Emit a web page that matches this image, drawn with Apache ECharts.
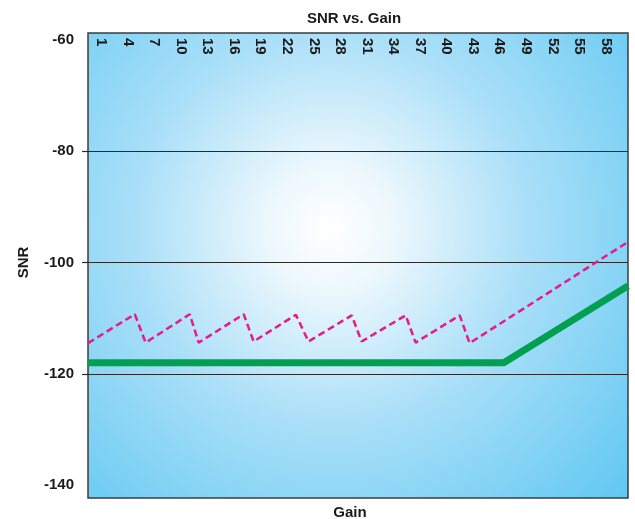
<!DOCTYPE html>
<html>
<head>
<meta charset="utf-8">
<script src="https://cdn.jsdelivr.net/npm/echarts@6/dist/echarts.min.js"></script>
<style>
    html, body { margin: 0; padding: 0; background: #fff; }
    #chart { width: 635px; height: 519px; }
</style>
</head>
<body>
<div id="chart"></div>
<script>
// gain labels printed along the top of the plot
let gainLabels = [1, 4, 7, 10, 13, 16, 19, 22, 25, 28, 31, 34, 37, 40, 43, 46, 49, 52, 55, 58];
let snrTicks = [-140, -120, -100, -80, -60];
let snrGridLines = [-120, -100, -80];

// dashed pink curve (gain, SNR)
let dashedGain = [0, 5.2, 6.4, 11.3, 12.3, 17.3, 18.4, 23.1, 24.5, 29.3, 30.4, 35.3, 36.4, 41.3, 42.4, 60];
let dashedSnr = [-114.5, -109.3, -114.4, -109.3, -114.4, -109.3, -114.2, -109.4, -114.2, -109.5, -114.2, -109.5, -114.4, -109.5, -114.5, -96.3];

// thick green curve (gain, SNR)
let solidGain = [0, 46.2, 60];
let solidSnr = [-118, -118, -104.2];

let chartDom = document.getElementById('chart');
let myChart = echarts.init(chartDom);

// categories 0..60 only used to place the rotated labels
let gainCats = [];
for (let i = 0; i <= 60; i++) {
    gainCats.push(String(i));
}

let pair = (xs, ys) => {
    let out = [];
    for (let i = 0; i < xs.length; i++) {
        out.push([xs[i], ys[i]]);
    }
    return out;
};

let boldText = {
    fontFamily: 'Liberation Sans',
    fontWeight: 'bold',
    color: '#1a1a1a'
};

let option = {
    animation: false,
    title: {
        text: 'SNR vs. Gain',
        left: 349,
        top: 6,
        textAlign: 'center',
        textStyle: Object.assign({fontSize: 15}, boldText)
    },
    grid: {
        left: 88,
        right: 7,
        top: 40,
        bottom: 34,
        outerBoundsMode: 'none'
    },
    graphic: [{
        type: 'rect',
        z: -10,
        shape: {x: 88, y: 33, width: 540, height: 465},
        style: {
            fill: {
                type: 'radial',
                x: 0.45,
                y: 0.42,
                r: 0.85,
                colorStops: [
                    {offset: 0, color: '#ffffff'},
                    {offset: 0.15, color: '#eef8fd'},
                    {offset: 0.5, color: '#a9dff8'},
                    {offset: 1, color: '#62c8f2'}
                ]
            },
            stroke: '#3c3c3c',
            lineWidth: 1.5
        }
    }],
    xAxis: [{
        type: 'value',
        min: 0,
        max: 60,
        position: 'bottom',
        axisLine: {show: false},
        axisTick: {show: false},
        axisLabel: {show: false},
        splitLine: {show: false},
        name: 'Gain',
        nameLocation: 'middle',
        nameGap: 20,
        nameTextStyle: Object.assign({fontSize: 15, padding: [0, 16, 0, 0]}, boldText)
    }, {
        type: 'category',
        data: gainCats,
        boundaryGap: true,
        position: 'top',
        offset: 7,
        axisLine: {show: false},
        axisTick: {show: false},
        splitLine: {show: false},
        axisLabel: Object.assign({
            inside: true,
            rotate: 90,
            margin: 5,
            fontSize: 15,
            interval: (index, value) => gainLabels.indexOf(Number(value)) >= 0
        }, boldText)
    }],
    yAxis: {
        type: 'value',
        min: snrTicks[0],
        max: snrTicks[snrTicks.length - 1],
        interval: 20,
        name: 'SNR',
        nameLocation: 'middle',
        nameRotate: 90,
        nameGap: 57,
        nameTextStyle: Object.assign({fontSize: 15}, boldText),
        axisLine: {show: false},
        axisTick: {
            show: true,
            length: 6,
            customValues: snrGridLines,
            lineStyle: {color: '#2a2a2a', width: 1.2}
        },
        axisLabel: Object.assign({margin: 14, fontSize: 15}, boldText),
        splitLine: {
            show: true,
            lineStyle: {color: '#2a2a2a', width: 1.2}
        }
    },
    series: [{
        type: 'line',
        xAxisIndex: 0,
        data: pair(solidGain, solidSnr),
        symbol: 'none',
        lineStyle: {color: '#00a050', width: 7, cap: 'butt', join: 'miter'}
    }, {
        type: 'line',
        xAxisIndex: 0,
        data: pair(dashedGain, dashedSnr),
        symbol: 'none',
        lineStyle: {color: '#e8198b', width: 2.5, type: [7, 4]}
    }]
};
myChart.setOption(option);
</script>
</body>
</html>
